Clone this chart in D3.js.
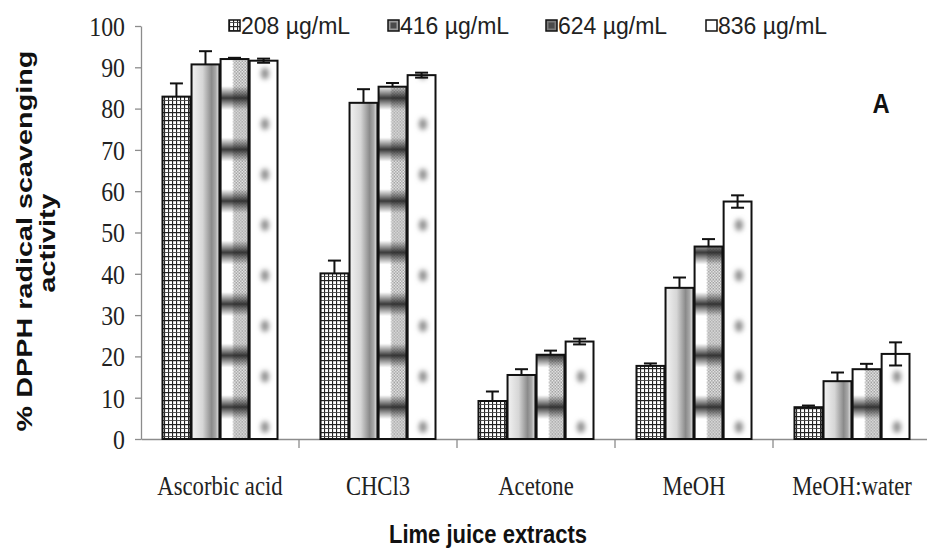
<!DOCTYPE html>
<html><head><meta charset="utf-8">
<script src="https://cdn.jsdelivr.net/npm/d3@7"></script>
<style>body{margin:0;background:#fff}svg{display:block}</style>
</head><body><svg id="c" width="927" height="550"></svg>
<script>
const categories = ["Ascorbic acid", "CHCl3", "Acetone", "MeOH", "MeOH:water"];
const seriesNames = ["208 µg/mL", "416 µg/mL", "624 µg/mL", "836 µg/mL"];
const v208 = [82.9, 40.1, 9.2, 17.7, 7.7];
const v416 = [90.7, 81.4, 15.5, 36.6, 14.0];
const v624 = [92.0, 85.3, 20.4, 46.6, 16.9];
const v836 = [91.6, 88.1, 23.6, 57.5, 20.6];
const e208 = [3.2, 3.1, 2.3, 0.6, 0.4];
const e416 = [3.2, 3.3, 1.4, 2.5, 2.1];
const e624 = [0.3, 0.9, 1.0, 1.8, 1.3];
const e836 = [0.5, 0.6, 0.7, 1.5, 2.8];
const yTicks = [0, 10, 20, 30, 40, 50, 60, 70, 80, 90, 100];
const xTitle = "Lime juice extracts";
const yTitle1 = "% DPPH radical scavenging";
const yTitle2 = "activity";
const panelLabel = "A";

const values = [v208, v416, v624, v836];
const errors = [e208, e416, e624, e836];

const svg = d3.select("#c");
const defs = svg.append("defs");

const x = d3.scaleBand().domain(categories).range([141, 931]).paddingInner(0).paddingOuter(0);
const xs = d3.scaleBand().domain(seriesNames).range([0, x.bandwidth()]).paddingOuter(0.74).paddingInner(0.04);
const y = d3.scaleLinear().domain([0, 100]).range([439, 26]);

// ---- patterns ----
const p208 = defs.append("pattern").attr("id", "p208").attr("patternUnits", "userSpaceOnUse")
  .attr("width", 4).attr("height", 8);
p208.append("rect").attr("width", 4).attr("height", 8).attr("fill", "#fff");
p208.append("rect").attr("x", 0).attr("y", 0).attr("width", 1.1).attr("height", 8).attr("fill", "#222");
p208.append("rect").attr("x", 0).attr("y", 0).attr("width", 4).attr("height", 1.2).attr("fill", "#222");
p208.append("rect").attr("x", 0).attr("y", 4).attr("width", 4).attr("height", 0.9).attr("fill", "#444");

const g416 = defs.append("linearGradient").attr("id", "g416").attr("x1", 0).attr("x2", 1).attr("y1", 0).attr("y2", 0);
[[0, "#f2f2f2"], [0.4, "#d6d6d6"], [0.72, "#8a8a8a"], [0.86, "#a8a8a8"], [1, "#ececec"]]
  .forEach(([o, c]) => g416.append("stop").attr("offset", o).attr("stop-color", c));

const chk = defs.append("pattern").attr("id", "chk").attr("patternUnits", "userSpaceOnUse")
  .attr("width", 3).attr("height", 3);
chk.append("rect").attr("width", 3).attr("height", 3).attr("fill", "#fff");
chk.append("rect").attr("width", 1.5).attr("height", 1.5).attr("fill", "#8a8a8a");
chk.append("rect").attr("x", 1.5).attr("y", 1.5).attr("width", 1.5).attr("height", 1.5).attr("fill", "#8a8a8a");

const band = defs.append("linearGradient").attr("id", "band").attr("x1", 0).attr("x2", 0).attr("y1", 0).attr("y2", 1);
[[0, "#333", 0], [0.5, "#222", 0.9], [1, "#333", 0]]
  .forEach(([o, c, op]) => band.append("stop").attr("offset", o).attr("stop-color", c).attr("stop-opacity", op));

const blur = defs.append("filter").attr("id", "blur").attr("x", "-100%").attr("y", "-100%").attr("width", "300%").attr("height", "300%");
blur.append("feGaussianBlur").attr("stdDeviation", 2.5);

const w = xs.bandwidth();
const period = 51.5;
categories.forEach((c, i) => {
  const bx = x(c) + xs(seriesNames[2]);
  const p = defs.append("pattern").attr("id", "p624_" + i).attr("patternUnits", "userSpaceOnUse")
    .attr("x", bx).attr("y", 407 - 25 - period * 8).attr("width", w).attr("height", period);
  p.append("rect").attr("width", w).attr("height", period).attr("fill", "#fff");
  p.append("rect").attr("x", w * 0.45).attr("width", w * 0.55).attr("height", period).attr("fill", "url(#chk)");
  p.append("rect").attr("y", 13).attr("width", w).attr("height", 24).attr("fill", "url(#band)");

  const bx4 = x(c) + xs(seriesNames[3]);
  const q = defs.append("pattern").attr("id", "p836_" + i).attr("patternUnits", "userSpaceOnUse")
    .attr("x", bx4).attr("y", 427 - 25 - 50.5 * 8).attr("width", w).attr("height", 50.5);
  q.append("rect").attr("width", w).attr("height", 50.5).attr("fill", "#fff");
  q.append("ellipse").attr("cx", w * 0.55).attr("cy", 25).attr("rx", 4).attr("ry", 6)
    .attr("fill", "#8c8c8c").attr("filter", "url(#blur)");
});

const fillFor = (s, i) => s === 0 ? "url(#p208)" : s === 1 ? "url(#g416)" : s === 2 ? "url(#p624_" + i + ")" : "url(#p836_" + i + ")";

// ---- axes ----
const yAxis = svg.append("g").attr("transform", "translate(141,0)")
  .call(d3.axisLeft(y).tickValues(yTicks).tickSize(6).tickSizeOuter(0).tickFormat(""));
yAxis.selectAll("path,line").attr("stroke", "#8c8c8c").attr("stroke-width", 1.3);

svg.append("g").selectAll("text").data(yTicks).join("text")
  .attr("transform", d => `translate(125,${y(d)}) scale(0.85,1)`)
  .attr("text-anchor", "end").attr("dy", "0.35em")
  .attr("font-family", "Liberation Serif, Times New Roman, serif").attr("font-size", 28).attr("fill", "#222")
  .text(d => d);

const xAxis = svg.append("g").attr("transform", "translate(0,439)")
  .call(d3.axisBottom(x).tickSize(0).tickSizeOuter(0).tickFormat(""));
xAxis.select("path").attr("stroke", "#8c8c8c").attr("stroke-width", 1.5);
svg.append("g").selectAll("line").data(categories.slice(1)).join("line")
  .attr("x1", d => x(d)).attr("x2", d => x(d)).attr("y1", 439).attr("y2", 448)
  .attr("stroke", "#8c8c8c").attr("stroke-width", 1.3);

svg.append("g").selectAll("text").data(categories).join("text")
  .attr("transform", d => `translate(${x(d) + x.bandwidth() / 2},495) scale(0.84,1)`)
  .attr("text-anchor", "middle")
  .attr("font-family", "Liberation Serif, Times New Roman, serif").attr("font-size", 27).attr("fill", "#222")
  .text(d => d);

// ---- bars ----
const flat = [];
categories.forEach((c, i) => seriesNames.forEach((s, k) => flat.push({ c, i, k, v: values[k][i], e: errors[k][i] })));

svg.append("g").selectAll("rect").data(flat).join("rect")
  .attr("x", d => x(d.c) + xs(seriesNames[d.k]))
  .attr("y", d => y(d.v))
  .attr("width", w)
  .attr("height", d => y(0) - y(d.v))
  .attr("fill", d => fillFor(d.k, d.i))
  .attr("stroke", "#111").attr("stroke-width", 2);

const eb = svg.append("g").attr("stroke", "#111").attr("stroke-width", 2);
flat.forEach(d => {
  const cx = x(d.c) + xs(seriesNames[d.k]) + w / 2;
  const lo = d.k === 3 ? d.v - d.e : d.v;
  eb.append("line").attr("x1", cx).attr("x2", cx).attr("y1", y(lo)).attr("y2", y(d.v + d.e));
  eb.append("line").attr("x1", cx - 6.5).attr("x2", cx + 6.5).attr("y1", y(d.v + d.e)).attr("y2", y(d.v + d.e));
  if (d.k === 3) eb.append("line").attr("x1", cx - 6.5).attr("x2", cx + 6.5).attr("y1", y(lo)).attr("y2", y(lo));
});

// ---- legend ----
const legendX = [229, 388, 546, 706];
const legendFill = ["url(#p208)", "#9a9a9a", "#7a7a7a", "#fff"];
const lg = svg.append("g").selectAll("g").data(seriesNames).join("g")
  .attr("transform", (d, i) => `translate(${legendX[i]},26)`);
lg.append("rect").attr("x", 0).attr("y", -6).attr("width", 11).attr("height", 11)
  .attr("fill", (d, i) => legendFill[i]).attr("stroke", "#111").attr("stroke-width", 1.5);
lg.filter((d, i) => i === 1 || i === 2).append("rect").attr("x", 2.5).attr("y", -3.5).attr("width", 6).attr("height", 6)
  .attr("fill", "#4a4a4a");
lg.append("text").attr("x", 12).attr("dy", "0.35em")
  .attr("font-family", "Liberation Sans, Arial, sans-serif").attr("font-size", 23).attr("fill", "#222")
  .text(d => d);

// ---- titles ----
svg.append("text").attr("transform", "translate(488,543) scale(0.88,1)").attr("text-anchor", "middle")
  .attr("font-family", "Liberation Sans, Arial, sans-serif").attr("font-weight", "bold").attr("font-size", 25)
  .attr("fill", "#111").text(xTitle);

svg.append("text").attr("transform", "translate(32,241) rotate(-90) scale(1.2,0.92)").attr("text-anchor", "middle")
  .attr("font-family", "Liberation Sans, Arial, sans-serif").attr("font-weight", "bold").attr("font-size", 24)
  .attr("fill", "#111").text(yTitle1);
svg.append("text").attr("transform", "translate(55,243) rotate(-90) scale(1.2,0.92)").attr("text-anchor", "middle")
  .attr("font-family", "Liberation Sans, Arial, sans-serif").attr("font-weight", "bold").attr("font-size", 24)
  .attr("fill", "#111").text(yTitle2);

svg.append("text").attr("transform", "translate(881,113) scale(0.85,1)").attr("text-anchor", "middle")
  .attr("font-family", "Liberation Sans, Arial, sans-serif").attr("font-weight", "bold").attr("font-size", 28)
  .attr("fill", "#111").text(panelLabel);
</script></body></html>
